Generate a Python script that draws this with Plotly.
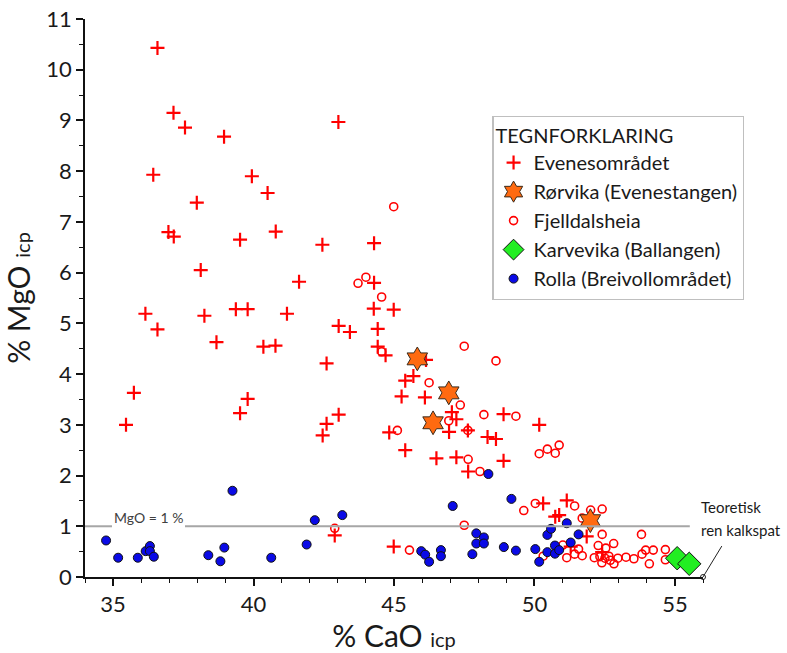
import plotly.graph_objects as go

# ---------------- data ----------------
evenes_x = [36.58, 37.15, 37.56, 38.95, 36.43, 39.94, 40.50, 37.98, 36.97, 37.16,
            39.52, 40.79, 38.12, 41.62, 36.15, 38.25, 39.37, 39.79, 41.19, 36.58,
            38.68, 40.35, 40.78, 35.74, 39.79, 35.46, 39.52, 43.02, 42.45, 44.29,
            44.29, 44.28, 44.99, 43.03, 43.43, 44.42, 44.42, 44.70, 42.60, 46.14,
            45.69, 45.40, 45.27, 46.10, 47.06, 47.22, 48.90, 43.03, 42.60, 42.46,
            44.83, 46.96, 47.63, 48.33, 48.63, 45.40, 46.51, 47.22, 48.90, 47.64,
            42.89, 44.99, 50.17, 50.31, 51.15, 50.74, 50.88, 51.86, 51.29, 52.41]
evenes_y = [10.43, 9.15, 8.86, 8.68, 7.93, 7.90, 7.57, 7.38, 6.80, 6.71,
            6.65, 6.81, 6.05, 5.82, 5.19, 5.15, 5.28, 5.28, 5.19, 4.88,
            4.63, 4.54, 4.56, 3.63, 3.51, 3.00, 3.23, 8.97, 6.55, 6.58,
            5.80, 5.29, 5.27, 4.95, 4.83, 4.89, 4.54, 4.37, 4.21, 4.28,
            3.96, 3.87, 3.56, 3.54, 3.25, 3.11, 3.21, 3.20, 3.02, 2.79,
            2.85, 2.86, 2.89, 2.76, 2.72, 2.50, 2.34, 2.36, 2.29, 2.08,
            0.82, 0.60, 3.00, 1.45, 1.51, 1.19, 1.22, 0.80, 0.60, 0.49]

rorvika_x = [45.83, 46.95, 46.39, 51.99]
rorvika_y = [4.30, 3.63, 3.04, 1.11]

fjell_x = [44.99, 43.72, 44.00, 44.56, 44.56, 47.50, 48.63, 46.25, 47.36, 46.95,
           48.20, 49.34, 45.12, 47.63, 47.64, 48.06, 42.89, 47.50, 45.55, 50.17,
           50.46, 50.74, 50.88, 49.62, 50.03, 51.43, 51.70, 52.00, 52.41, 52.41,
           53.81, 50.31, 51.01, 51.57, 51.15, 51.43, 51.70, 52.27, 52.54, 52.82,
           52.13, 52.33, 52.51, 52.65, 52.70, 52.40, 52.83, 52.97, 53.26, 53.54,
           53.83, 53.96, 54.23, 54.09, 54.66, 54.66]
fjell_y = [7.30, 5.79, 5.91, 5.52, 4.44, 4.55, 4.26, 3.83, 3.39, 3.08,
           3.20, 3.17, 2.89, 2.89, 2.32, 2.08, 0.96, 1.02, 0.53, 2.43,
           2.52, 2.44, 2.60, 1.31, 1.45, 1.40, 1.16, 1.32, 1.34, 0.84,
           0.84, 0.41, 0.63, 0.55, 0.38, 0.45, 0.42, 0.62, 0.57, 0.66,
           0.38, 0.40, 0.37, 0.41, 0.33, 0.28, 0.26, 0.37, 0.39, 0.36,
           0.45, 0.53, 0.53, 0.26, 0.54, 0.34]

karv_x = [55.08, 55.51]
karv_y = [0.37, 0.26]

rolla_x = [34.75, 35.18, 35.88, 36.16, 36.31, 36.31, 36.45, 38.39, 38.82, 38.96,
           39.25, 40.63, 41.89, 42.18, 43.16, 45.97, 46.11, 46.25, 46.67, 46.67,
           47.09, 47.93, 48.20, 47.93, 48.20, 47.79, 48.36, 48.91, 49.18, 49.34,
           50.03, 50.17, 50.46, 50.46, 50.59, 50.73, 50.73, 50.88, 51.15, 51.29,
           51.57]
rolla_y = [0.72, 0.38, 0.38, 0.51, 0.61, 0.51, 0.40, 0.43, 0.31, 0.58,
           1.70, 0.38, 0.64, 1.12, 1.22, 0.51, 0.44, 0.30, 0.53, 0.41,
           1.40, 0.86, 0.78, 0.66, 0.66, 0.45, 2.03, 0.59, 1.54, 0.52,
           0.55, 0.30, 0.49, 0.83, 0.95, 0.62, 0.46, 0.53, 1.06, 0.68,
           0.84]

calcite_x = [56.0]
calcite_y = [0.0]
mgo_limit = 1.0

x_range = [34, 56]
y_range = [0, 11]
x_ticks = [35, 40, 45, 50, 55]
y_ticks = list(range(0, 12))

FONT = "Lato"
TXT = "#1a1a1a"

fig = go.Figure()

fig.add_trace(go.Scatter(
    x=evenes_x, y=evenes_y, mode="markers", name="Evenesområdet", legendrank=1,
    marker=dict(symbol="cross-thin-open", size=10, line=dict(color="#FF0000", width=2.2), color="#FF0000")))
fig.add_trace(go.Scatter(
    x=fjell_x, y=fjell_y, mode="markers", name="Fjelldalsheia", legendrank=3,
    marker=dict(symbol="circle-open", size=8, color="#FF0000", line=dict(color="#FF0000", width=1.6))))
fig.add_trace(go.Scatter(
    x=rolla_x, y=rolla_y, mode="markers", name="Rolla (Breivollområdet)", legendrank=5,
    marker=dict(symbol="circle", size=9, color="#0A0AE6", line=dict(color="#111111", width=1))))
fig.add_trace(go.Scatter(
    x=rorvika_x, y=rorvika_y, mode="markers", name="Rørvika (Evenestangen)", legendrank=2,
    marker=dict(symbol="hexagram", size=18, color="#FF6A10", line=dict(color="#3a2a1a", width=1))))
fig.add_trace(go.Scatter(
    x=karv_x, y=karv_y, mode="markers", name="Karvevika (Ballangen)", legendrank=4,
    marker=dict(symbol="diamond", size=18, color="#22EE22", line=dict(color="#111111", width=1))))

# theoretical pure calcite point
fig.add_trace(go.Scatter(
    x=calcite_x, y=calcite_y, mode="markers", showlegend=False, cliponaxis=False,
    marker=dict(symbol="circle-open", size=5, color="#222222", line=dict(width=1))))

# MgO = 1 % reference line (interrupted by its label)
fig.add_shape(type="line", xref="x", yref="y", x0=34, x1=34.96, y0=mgo_limit, y1=mgo_limit,
              line=dict(color="#A6A6A6", width=2))
fig.add_shape(type="line", xref="x", yref="y", x0=37.56, x1=55.53, y0=mgo_limit, y1=mgo_limit,
              line=dict(color="#A6A6A6", width=2))
fig.add_annotation(x=36.25, y=mgo_limit + 0.17, xref="x", yref="y", text="MgO = 1 %",
                   showarrow=False, font=dict(family=FONT, size=14, color="#404040"))

# calcite connector (paper coords so it is not clipped) + label
def px_x(v):
    return (v - x_range[0]) / (x_range[1] - x_range[0])

def px_y(v):
    return (v - y_range[0]) / (y_range[1] - y_range[0])

fig.add_shape(type="line", xref="paper", yref="paper",
              x0=px_x(calcite_x[0]), y0=px_y(calcite_y[0]), x1=px_x(56.67), y1=px_y(0.61),
              line=dict(color="#222222", width=1))
fig.add_annotation(x=55.86, y=1.38, xref="x", yref="y", text="Teoretisk", xanchor="left",
                   showarrow=False, font=dict(family=FONT, size=15, color=TXT))
fig.add_annotation(x=55.86, y=0.93, xref="x", yref="y", text="ren kalkspat", xanchor="left",
                   showarrow=False, font=dict(family=FONT, size=15, color=TXT))

fig.update_layout(
    width=787, height=653,
    margin=dict(l=85, r=84, t=19, b=76, autoexpand=False),
    paper_bgcolor="white", plot_bgcolor="white",
    font=dict(family=FONT, color=TXT),
    legend=dict(
        x=0.659, y=0.8265, xanchor="left", yanchor="top",
        bgcolor="white", bordercolor="#BFBFBF", borderwidth=1.3,
        font=dict(family=FONT, size=20, color=TXT),
        title=dict(text="TEGNFORKLARING", font=dict(family=FONT, size=20, color=TXT)),
    ),
    xaxis=dict(
        range=x_range, tickvals=x_ticks, showgrid=False, zeroline=False, automargin=False,
        showline=True, linecolor="#111111", linewidth=1.5,
        ticks="outside", ticklen=7, tickwidth=1.5, tickcolor="#111111",
        tickfont=dict(family=FONT, size=22, color=TXT),
        minor=dict(dtick=1, tick0=34, ticks="outside", ticklen=4, tickcolor="#111111", tickwidth=1),
        title=dict(text="% CaO <span style='font-size:20px'>icp</span>",
                   font=dict(family=FONT, size=30, color=TXT), standoff=7),
    ),
    yaxis=dict(
        range=y_range, tickvals=y_ticks, showgrid=False, zeroline=False, automargin=False,
        showline=True, linecolor="#111111", linewidth=1.5,
        ticks="outside", ticklen=7, tickwidth=1.5, tickcolor="#111111",
        tickfont=dict(family=FONT, size=22, color=TXT),
        minor=dict(dtick=0.5, ticks="outside", ticklen=4, tickcolor="#111111", tickwidth=1),
        title=dict(text="% MgO <span style='font-size:20px'>icp</span>",
                   font=dict(family=FONT, size=30, color=TXT), standoff=8),
    ),
)

fig.write_html("out.html")
